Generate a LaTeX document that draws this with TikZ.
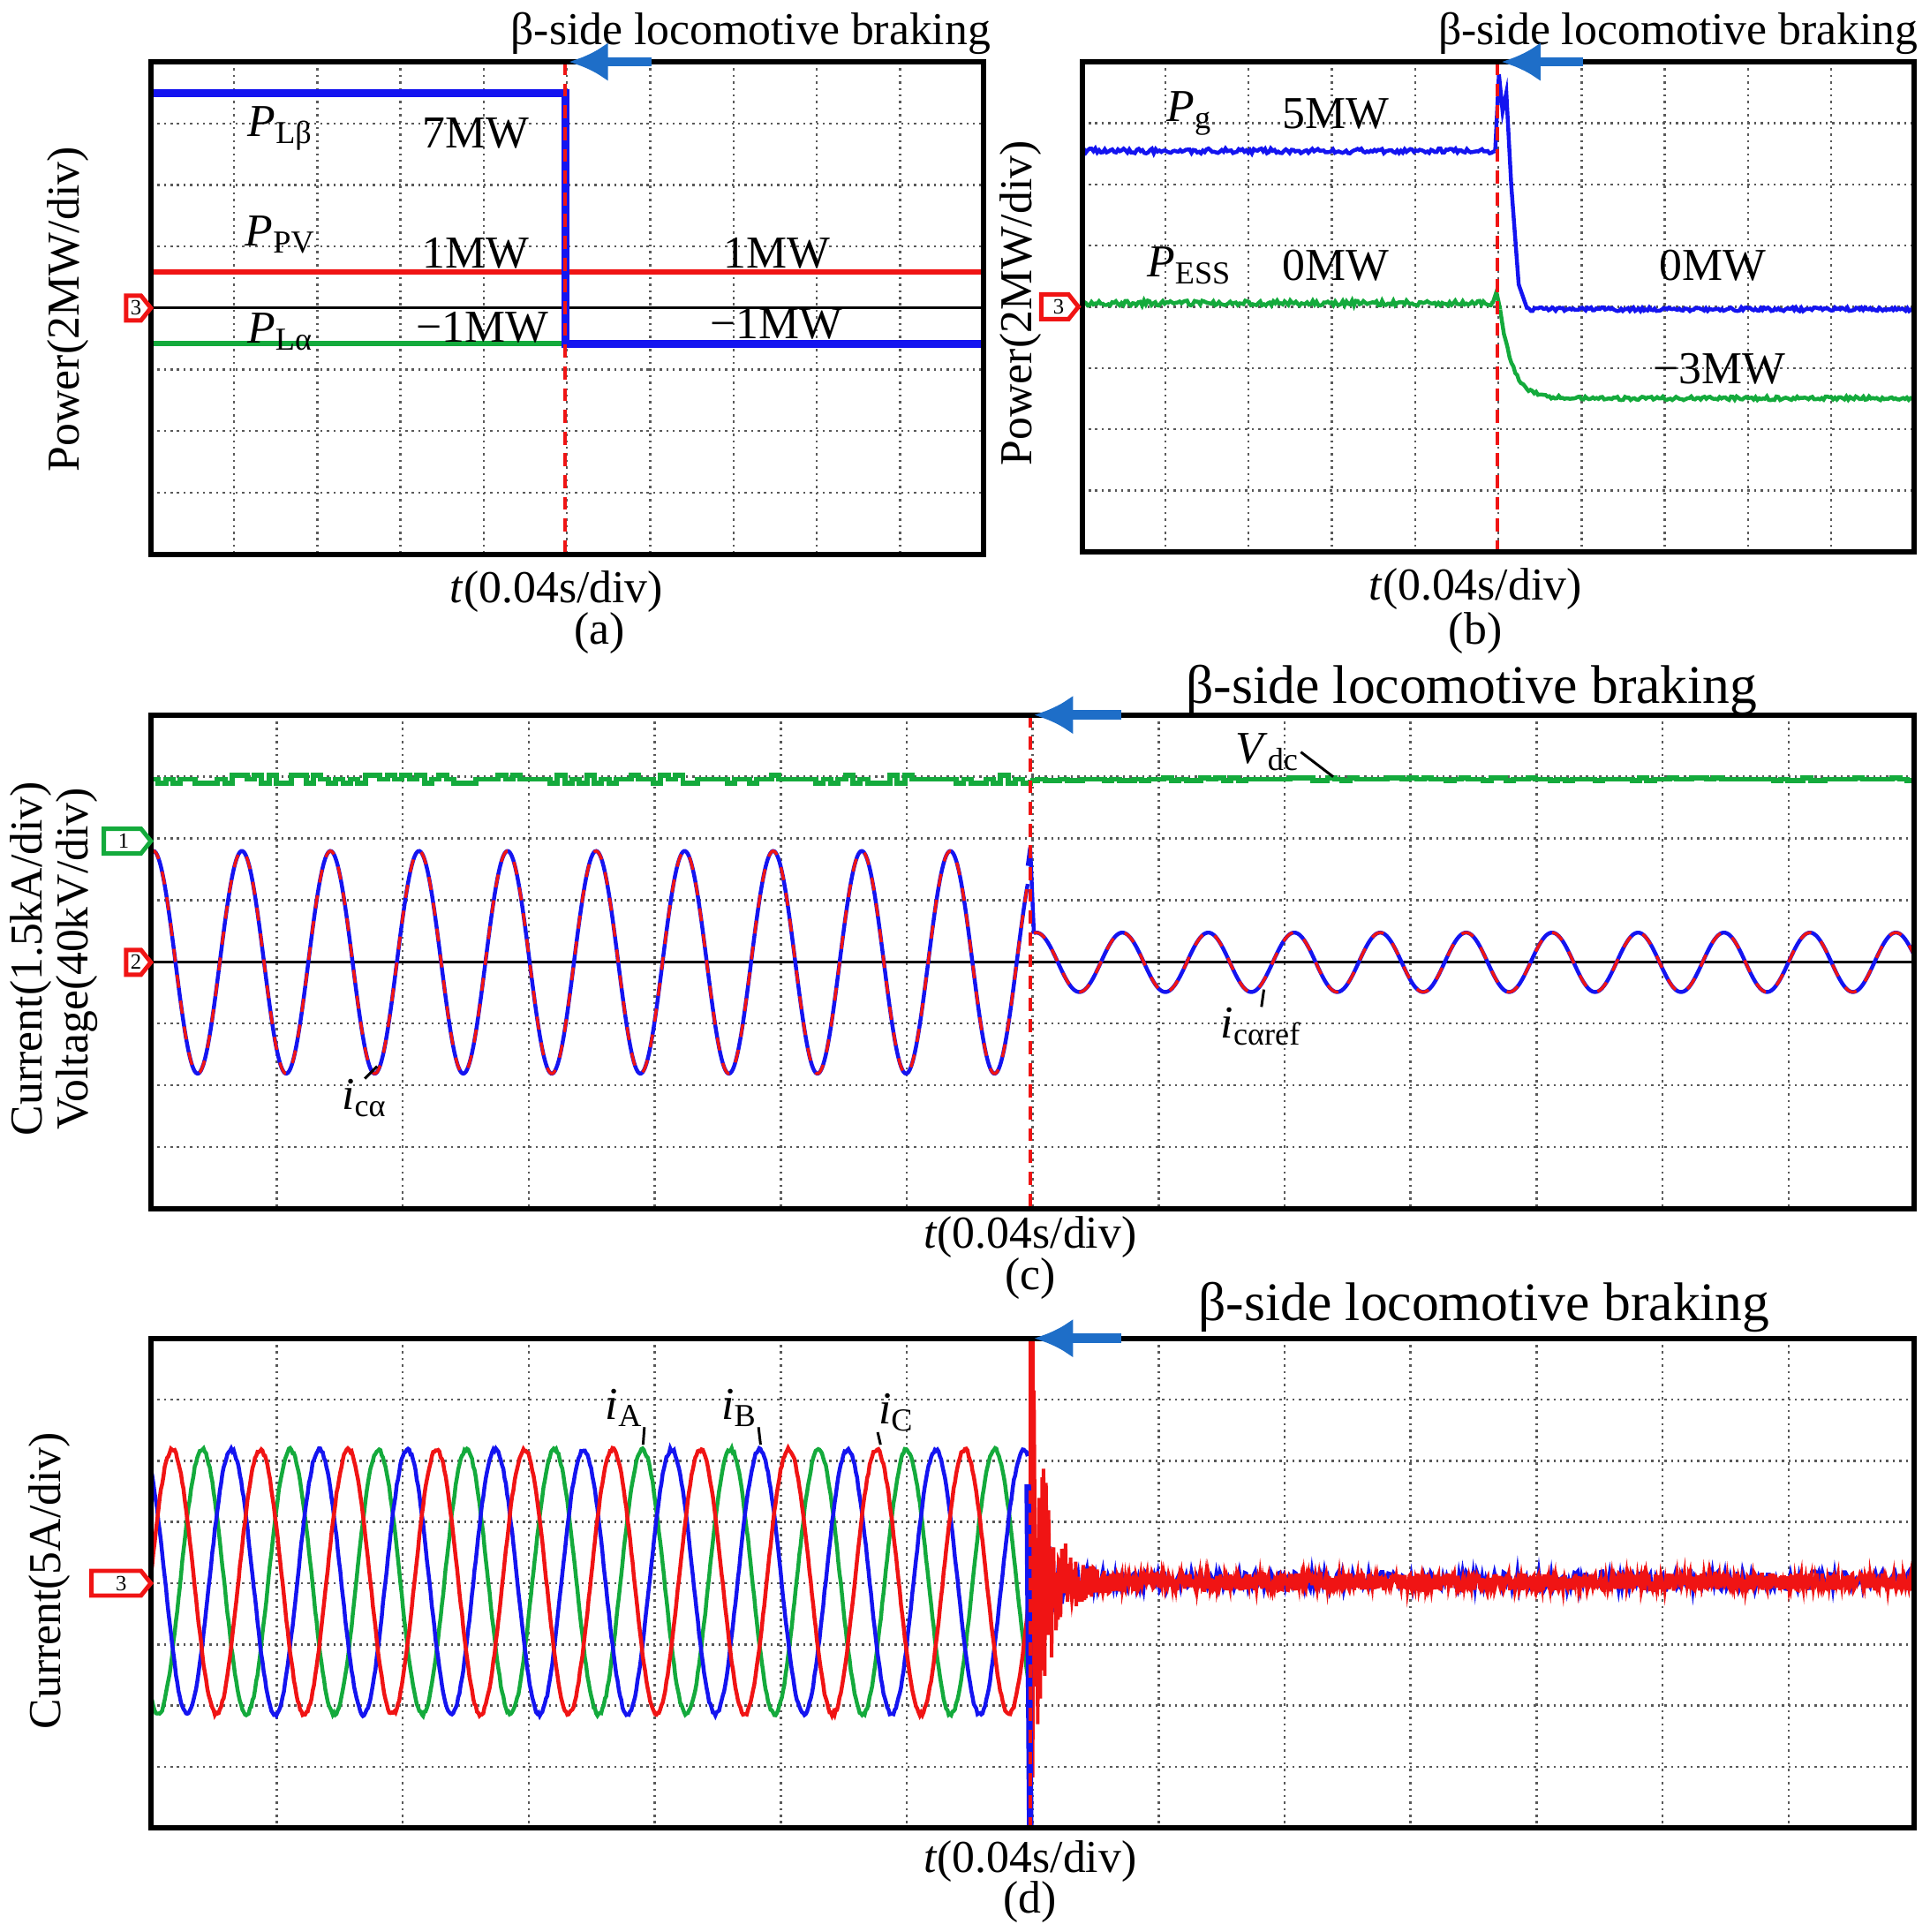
\documentclass[tikz,border=0pt]{standalone}
\usepackage{fontspec}
\setmainfont{Liberation Serif}
\definecolor{pb}{RGB}{20,20,240}
\definecolor{pr}{RGB}{240,20,20}
\definecolor{pg}{RGB}{20,170,60}
\definecolor{ab}{RGB}{30,110,200}
\usetikzlibrary{arrows.meta}
\tikzset{
 gridl/.style={densely dotted,gray!70!black,line width=0.5pt},
 frame/.style={draw=black,line width=1.2pt},
 lbl/.style={font=\fontsize{10.5}{12}\selectfont,inner sep=0pt},
 big/.style={font=\fontsize{12.5}{14}\selectfont,inner sep=0pt},
 captxt/.style={font=\fontsize{10.5}{12}\selectfont,inner sep=0pt},
 sig/.style={line width=0.9pt},
 ev/.style={pr,densely dashed,line width=0.8pt},
 arr/.style={ab,line width=2.2pt,-{Latex[length=9pt,width=9pt]}},
 mk/.style={draw=pr,line width=1pt,fill=white},
}
\begin{document}
\begin{tikzpicture}[x=0.01cm,y=-0.01cm]
\useasboundingbox (0,0) rectangle (1560,1562);
\pgfmathsetseed{7}
% ================= (a)
\foreach \i in {1,...,9} \draw[gridl] ({122+\i*67.3},50) -- ({122+\i*67.3},448);
\foreach \j in {1,...,7} \draw[gridl] (122,{50+\j*49.75}) -- (795,{50+\j*49.75});
\draw[black,line width=0.6pt] (122,249) -- (795,249);
\draw[pr,line width=1.2pt] (122,220) -- (795,220);
\draw[pg,line width=1.2pt] (122,278) -- (457,278);
\draw[pb,line width=1.8pt] (122,75) -- (457,75) -- (457,278) -- (795,278);
\draw[ev] (457,50) -- (457,448);
\draw[frame] (122,50) rectangle (795,448);
\draw[mk] (102,239) -- (114,239) -- (122,249) -- (114,259) -- (102,259) -- cycle;
\node[font=\tiny] at (110,249) {3};
\node[lbl] (pa1) at (227,104) {\textit{P}\textsubscript{Lβ}};
\node[lbl] at (385,108) {7MW};
\node[lbl] at (227,190) {\textit{P}\textsubscript{PV}};
\node[lbl] at (385,205) {1MW};
\node[lbl] at (628,205) {1MW};
\node[lbl] at (227,268) {\textit{P}\textsubscript{Lα}};
\node[lbl] at (390,265) {−1MW};
\node[lbl] at (628,262) {−1MW};
\node[lbl] (ta) at (607,27) {β-side locomotive braking};
\coordinate (a1) at (527,50); \coordinate (a2) at (460,50);
\draw[arr] (a1) -- (a2);
\node[lbl,rotate=90] at (55,250) {Power(2MW/div)};
\node[captxt] at (450,478) {\textit{t}(0.04s/div)};
\node[captxt] at (485,512) {(a)};
% ================= (b)
\foreach \i in {1,...,9} \draw[gridl] ({875+\i*67.3},50) -- ({875+\i*67.3},446);
\foreach \j in {1,...,7} \draw[gridl] (875,{50+\j*49.5}) -- (1548,{50+\j*49.5});
\draw[sig,pg] plot[domain=875:1207,samples=220] (\x,{245+2*rand});
\draw[sig,pg] (1207,245) -- (1210,236) -- (1213,250);
\draw[sig,pg] plot[domain=1213:1548,samples=220] (\x,{322-72*exp(-min(60,(\x-1213)/10))+1.5*rand});
\draw[sig,pb] plot[domain=875:1209,samples=220] (\x,{122+2*rand});
\draw[sig,pb] (1209,122) -- (1212,60) -- (1215,90) -- (1218,75) -- (1222,150) -- (1228,230) -- (1235,250);
\draw[sig,pb] plot[domain=1235:1548,samples=220] (\x,{250+1.5*rand});
\draw[ev] (1211,50) -- (1211,446);
\draw[frame] (875,50) rectangle (1548,446);
\draw[mk] (842,238) -- (864,238) -- (872,248) -- (864,258) -- (842,258) -- cycle;
\node[font=\tiny] at (856,248) {3};
\node[lbl] at (962,92) {\textit{P}\textsubscript{g}};
\node[lbl] at (1080,92) {5MW};
\node[lbl] at (962,215) {\textit{P}\textsubscript{ESS}};
\node[lbl] at (1080,215) {0MW};
\node[lbl] at (1385,215) {0MW};
\node[lbl] at (1390,298) {−3MW};
\node[lbl] at (1357,27) {β-side locomotive braking};
\coordinate (b1) at (1280,50); \coordinate (b2) at (1214,50);
\draw[arr] (b1) -- (b2);
\node[lbl,rotate=90] at (825,245) {Power(2MW/div)};
\node[captxt] at (1193,476) {\textit{t}(0.04s/div)};
\node[captxt] at (1193,512) {(b)};
% ================= (c)
\foreach \i in {1,...,13} \draw[gridl] ({122+\i*101.86},578) -- ({122+\i*101.86},977);
\foreach \j in {1,...,7} \draw[gridl] (122,{578+\j*49.9}) -- (1548,{578+\j*49.9});
\draw[black,line width=0.6pt] (122,778) -- (1548,778);
\draw[pg,line width=1.2pt] plot[domain=122:833,samples=120,const plot] (\x,{630+3*round(rand)});
\draw[pg,line width=1.2pt] plot[domain=833:1548,samples=120,const plot] (\x,{630+1.2*round(rand)});
\draw[sig,pb] plot[domain=122:831,samples=700] (\x,{778-90*cos((\x-124)/71.6*360)});
\draw[pr,dashed,line width=0.7pt] plot[domain=122:831,samples=700] (\x,{778-90*cos((\x-124)/71.6*360)});
\draw[sig,pb] (831,700) -- (833,685) -- (836,755);
\draw[sig,pb] plot[domain=836:1548,samples=700] (\x,{778-24*cos((\x-838)/69.5*360)});
\draw[pr,dashed,line width=0.7pt] plot[domain=836:1548,samples=700] (\x,{778-24*cos((\x-838)/69.5*360)});
\draw[ev] (833,578) -- (833,977);
\draw[frame] (122,578) rectangle (1548,977);
\draw[mk] (102,768) -- (114,768) -- (122,778) -- (114,788) -- (102,788) -- cycle;
\node[font=\tiny] at (110,778) {2};
\draw[draw=pg,line width=1pt,fill=white] (84,670) -- (114,670) -- (122,680) -- (114,690) -- (84,690) -- cycle;
\node[font=\tiny] at (100,680) {1};
\node[lbl] (vdc) at (1025,608) {\textit{V}\textsubscript{dc}};
\coordinate (vdce) at (1078,628);
\draw[line width=0.6pt] (vdc.east) -- (vdce);
\node[lbl] (ica) at (295,888) {\textit{i}\textsubscript{cα}};
\coordinate (icae) at (305,862);
\draw[line width=0.6pt] (ica.north) -- (icae);
\node[lbl] (icr) at (1020,830) {\textit{i}\textsubscript{cαref}};
\coordinate (icre) at (1022,800);
\draw[line width=0.6pt] (icr.north) -- (icre);
\node[big] at (1190,558) {β-side locomotive braking};
\coordinate (c1) at (907,578); \coordinate (c2) at (836,578);
\draw[arr] (c1) -- (c2);
\node[lbl,rotate=90] at (25,775) {Current(1.5kA/div)};
\node[lbl,rotate=90] at (62,775) {Voltage(40kV/div)};
\node[captxt] at (833,1000) {\textit{t}(0.04s/div)};
\node[captxt] at (833,1034) {(c)};
% ================= (d)
\foreach \i in {1,...,13} \draw[gridl] ({122+\i*101.86},1082) -- ({122+\i*101.86},1478);
\foreach \j in {1,...,7} \draw[gridl] (122,{1082+\j*49.5}) -- (1548,{1082+\j*49.5});
\draw[sig,pg] plot[domain=122:831,samples=700] (\x,{1279-107*cos((\x-163.5)/71.2*360)+1.5*rand});
\draw[sig,pb] plot[domain=122:831,samples=700] (\x,{1279-107*cos((\x-187)/71.2*360)+1.5*rand});
\draw[sig,pr] plot[domain=122:831,samples=700] (\x,{1279-107*cos((\x-139.3)/71.2*360)+1.5*rand});
\draw[pb,line width=0.8pt] plot[domain=833:1548,samples=500] (\x,{1278+(60*exp(-min(60,(\x-833)/15))+8)*rand});
\draw[pr,line width=0.8pt] plot[domain=833:1548,samples=1400] (\x,{1279+(190*exp(-min(60,(\x-833)/14))+7)*rand});
\draw[pb,line width=1.5pt] (831,1200) -- (833,1478);
\draw[pr,line width=1.5pt] (834,1082) -- (834,1200);
\draw[ev] (833,1082) -- (833,1478);
\draw[frame] (122,1082) rectangle (1548,1478);
\draw[mk] (74,1270) -- (114,1270) -- (122,1280) -- (114,1290) -- (74,1290) -- cycle;
\node[font=\tiny] at (98,1280) {3};
\node[lbl] (iA) at (505,1138) {\textit{i}\textsubscript{A}};
\coordinate (iAe) at (520,1168);
\draw[line width=0.6pt] (iA.south east) -- (iAe);
\node[lbl] (iB) at (598,1138) {\textit{i}\textsubscript{B}};
\coordinate (iBe) at (615,1168);
\draw[line width=0.6pt] (iB.south east) -- (iBe);
\node[lbl] (iC) at (725,1142) {\textit{i}\textsubscript{C}};
\coordinate (iCe) at (712,1168);
\draw[line width=0.6pt] (iC.south west) -- (iCe);
\node[big] at (1200,1057) {β-side locomotive braking};
\coordinate (d1) at (907,1082); \coordinate (d2) at (836,1082);
\draw[arr] (d1) -- (d2);
\node[lbl,rotate=90] at (40,1278) {Current(5A/div)};
\node[captxt] at (833,1505) {\textit{t}(0.04s/div)};
\node[captxt] at (833,1538) {(d)};
\end{tikzpicture}
\end{document}
